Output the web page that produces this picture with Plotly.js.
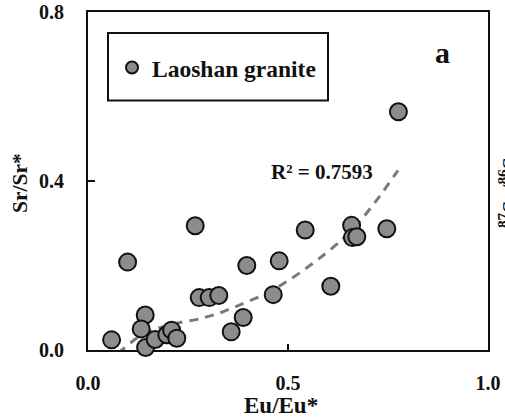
<!DOCTYPE html>
<html>
<head>
<meta charset="utf-8">
<script src="https://cdn.plot.ly/plotly-3.0.1.min.js"></script>
<style>
  html, body { margin: 0; padding: 0; background: #fff; }
  #chart { width: 505px; height: 419px; }
</style>
</head>
<body>
<div id="chart"></div>
<script>
// Laoshan granite samples: Eu anomaly vs Sr anomaly
const euEu = [0.059, 0.099, 0.143, 0.133, 0.144, 0.168, 0.197, 0.209, 0.222,
              0.268, 0.278, 0.303, 0.327, 0.358, 0.388, 0.397, 0.478, 0.463,
              0.543, 0.607, 0.659, 0.661, 0.672, 0.747, 0.776];
const srSr = [0.024, 0.208, 0.083, 0.050, 0.006, 0.025, 0.036, 0.047, 0.028,
              0.294, 0.124, 0.124, 0.129, 0.043, 0.077, 0.200, 0.211, 0.131,
              0.284, 0.151, 0.295, 0.266, 0.268, 0.287, 0.564];

// Polynomial trend line, sampled along its length
const trendX = [0.075, 0.13, 0.18, 0.23, 0.28, 0.33, 0.38, 0.43, 0.48, 0.53,
                0.58, 0.63, 0.68, 0.73, 0.775];
const trendY = [-0.008, 0.033, 0.053, 0.065, 0.074, 0.088, 0.107, 0.127, 0.152, 0.183,
                0.218, 0.257, 0.305, 0.365, 0.425];

const xTicks = [0, 0.5, 1.0];
const xTickText = ['0.0', '0.5', '1.0'];
const yTicks = [0, 0.4, 0.8];
const yTickText = ['0.0', '0.4', '0.8'];
const xTitle = 'Eu/Eu*';
const yTitle = 'Sr/Sr*';
const r2Label = 'R² = 0.7593';

const serif = "'Liberation Serif', 'Times New Roman', Times, serif";
const boldFont = (size) => ({ family: serif, size: size, color: '#111', weight: 'bold' });

const traces = [
  {
    x: trendX, y: trendY, type: 'scatter', mode: 'lines',
    line: { color: '#7a7a7a', width: 3, dash: '9px,7px', shape: 'spline', smoothing: 0.8 },
    showlegend: false, hoverinfo: 'skip'
  },
  {
    x: euEu, y: srSr, type: 'scatter', mode: 'markers',
    name: 'Laoshan granite',
    cliponaxis: false,
    marker: { size: 17, color: '#8c8c8c', line: { color: '#111', width: 2 } }
  }
];

const layout = {
  width: 505, height: 419,
  margin: { l: 88, r: 17, t: 12, b: 69 },
  paper_bgcolor: '#fff', plot_bgcolor: '#fff',
  font: { family: serif, color: '#111', weight: 'bold' },
  showlegend: true,
  legend: {
    x: 0.06, y: 0.835, xanchor: 'left', yanchor: 'middle',
    bgcolor: 'rgba(0,0,0,0)', borderwidth: 0, itemsizing: 'constant',
    font: boldFont(23.5)
  },
  xaxis: {
    range: [0, 1], tickvals: xTicks, ticktext: xTickText,
    showgrid: false, zeroline: false, showline: true, linecolor: '#111', linewidth: 2,
    mirror: true, ticks: 'inside', ticklen: 6, tickwidth: 2, tickcolor: '#111',
    ticklabelstandoff: 14, layer: 'below traces',
    tickfont: boldFont(20)
  },
  yaxis: {
    range: [0, 0.8], tickvals: yTicks, ticktext: yTickText,
    showgrid: false, zeroline: false, showline: true, linecolor: '#111', linewidth: 2,
    mirror: true, ticks: 'inside', ticklen: 7, tickwidth: 2, tickcolor: '#111',
    ticklabelstandoff: 18, layer: 'below traces',
    tickfont: boldFont(20)
  },
  shapes: [
    // frame around the legend entry
    { type: 'rect', xref: 'paper', yref: 'paper', x0: 0.05, x1: 0.6,
      y0: 0.738, y1: 0.938, line: { color: '#111', width: 2 } }
  ],
  annotations: [
    // axis titles
    { x: 0.4825, y: -0.163, xref: 'paper', yref: 'paper', text: xTitle, showarrow: false,
      xanchor: 'center', yanchor: 'middle', font: boldFont(23) },
    { x: -0.17, y: 0.494, xref: 'paper', yref: 'paper', text: yTitle, showarrow: false,
      textangle: -90, xanchor: 'center', yanchor: 'middle', font: boldFont(21.5) },
    { x: 0.585, y: 0.421, xref: 'x', yref: 'y', text: r2Label, showarrow: false,
      font: boldFont(21) },
    { x: 0.885, y: 0.705, xref: 'x', yref: 'y', text: 'a', showarrow: false,
      font: boldFont(30) },
    // neighbouring panel's axis title, running off the right edge
    { x: 1.09, y: 0.479, xref: 'paper', yref: 'paper', text: '<sup>87</sup>Sr/<sup>86</sup>Sr',
      textangle: -90, showarrow: false, font: boldFont(22) }
  ]
};

Plotly.newPlot('chart', traces, layout, { displayModeBar: false, staticPlot: true });
</script>
</body>
</html>
